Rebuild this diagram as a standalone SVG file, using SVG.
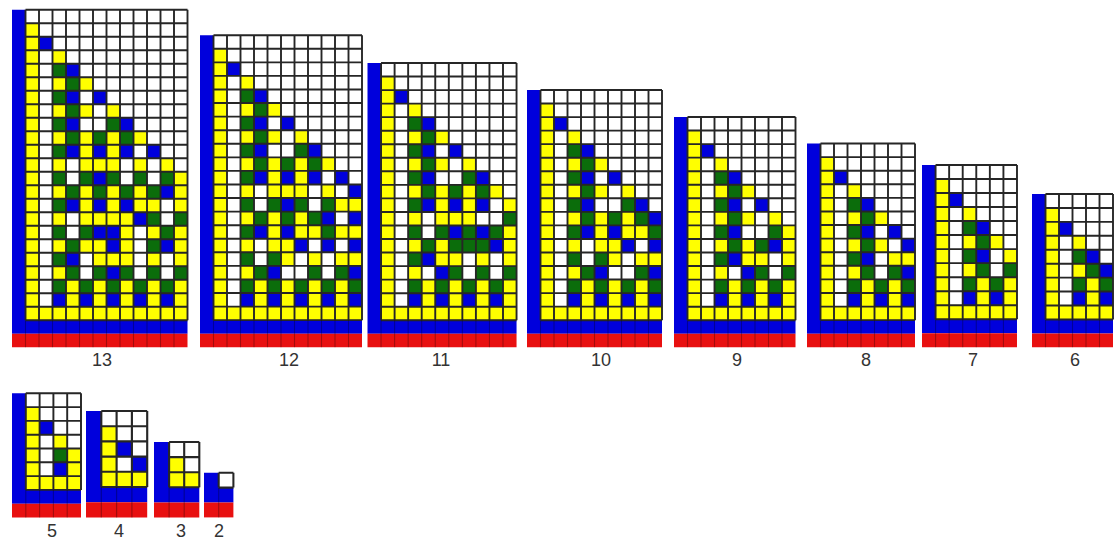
<svg xmlns="http://www.w3.org/2000/svg" width="1114" height="540" viewBox="0 0 1114 540">
<style>
.w{fill:#fff}
.y,.g,.b,.r{fill:none;stroke-width:1}
.y{stroke:#ffff00}
.g{stroke:#0b6d0b}
.b{stroke:#0000dc}
.r{stroke:#e81010}
.gl{fill:none;stroke:#262626;stroke-dasharray:.14 .86}
.sp{fill:none;stroke:#000;stroke-opacity:.3;stroke-dasharray:.08 .92;stroke-width:2}
text{font-family:"Liberation Sans",Arial,sans-serif;font-size:18px;fill:#333;text-anchor:middle}
</style>
<rect width="1114" height="540" fill="#fff"/>

<g id="squad-13">
<g transform="translate(12 9.8) scale(13.5)">
<rect class="w" x="1" y="0" width="12" height="23"/>
<path class="y" d="M1.5 1v22M1 22.5h12M3 3.5h1M3 5.5h1M5 5.5h1M3 7.5h1M5 7.5h1M7 7.5h1M3 9.5h1M5 9.5h1M7 9.5h1M9 9.5h1M5 10.5h1M7 10.5h1M3 11.5h1M5 11.5h3M9 11.5h1M11 11.5h1M12 12.5h1M3 13.5h1M5 13.5h1M7 13.5h1M9 13.5h1M12 13.5h1M5 14.5h1M7 14.5h1M9 14.5h2M12 14.5h1M3 15.5h1M5 15.5h4M8 16.5h1M10 16.5h1M12 16.5h1M3 17.5h1M5 17.5h2M8 17.5h1M12 17.5h1M6 18.5h3M10 18.5h1M12 18.5h1M3 19.5h1M4 20.5h1M6 20.5h1M8 20.5h1M10 20.5h1M12 20.5h1M4 21.5h1M6 21.5h1M8 21.5h1M10 21.5h1M12 21.5h1"/>
<path class="g" d="M3 4.5h1M4 5.5h1M3 6.5h1M4 7.5h1M3 8.5h1M7 8.5h1M4 9.5h1M6 9.5h1M8 9.5h1M3 10.5h1M3 12.5h1M5 12.5h1M7 12.5h1M9 12.5h1M11 12.5h1M4 13.5h1M6 13.5h1M8 13.5h1M10 13.5h1M3 14.5h1M10 15.5h1M12 15.5h1M3 16.5h1M5 16.5h1M11 16.5h1M4 17.5h1M10 17.5h1M3 18.5h1M4 19.5h1M6 19.5h1M8 19.5h1M10 19.5h1M12 19.5h1M3 20.5h1M5 20.5h1M7 20.5h1M9 20.5h1M11 20.5h1"/>
<path class="b" d="M.5 0v24M0 23.5h13M2 2.5h1M4 4.5h1M4 6.5h1M6 6.5h1M4 8.5h1M8 8.5h1M4 10.5h1M6 10.5h1M8 10.5h1M10 10.5h1M6 12.5h1M11 13.5h1M4 14.5h1M6 14.5h1M8 14.5h1M9 15.5h1M6 16.5h2M7 17.5h1M11 17.5h1M4 18.5h1M7 19.5h1M3 21.5h1M5 21.5h1M7 21.5h1M9 21.5h1M11 21.5h1"/>
<path class="r" d="M0 24.5h13"/>
<path class="gl" d="M.93 11.5h12.14" stroke-width="23"/>
<path class="gl" d="M7 -.07v23.14" stroke-width="12"/>
<path class="sp" d="M.96 24h11.08"/>
</g>
<text x="102" y="366">13</text>
</g>

<g id="squad-12">
<g transform="translate(200 35.2) scale(13.5 13.57)">
<rect class="w" x="1" y="0" width="11" height="21"/>
<path class="y" d="M1.5 1v20M1 20.5h11M3 3.5h1M3 5.5h1M5 5.5h1M3 7.5h1M5 7.5h1M7 7.5h1M3 9.5h1M5 9.5h1M7 9.5h1M9 9.5h1M5 10.5h1M7 10.5h1M3 11.5h1M5 11.5h3M9 11.5h1M10 12.5h2M3 13.5h1M5 13.5h1M7 13.5h1M5 14.5h1M7 14.5h2M10 14.5h2M3 15.5h1M5 15.5h2M6 16.5h1M8 16.5h1M10 16.5h2M3 17.5h1M4 18.5h1M6 18.5h1M8 18.5h1M10 18.5h1M4 19.5h1M6 19.5h1M8 19.5h1M10 19.5h1"/>
<path class="g" d="M3 4.5h1M4 5.5h1M3 6.5h1M4 7.5h1M3 8.5h1M7 8.5h1M4 9.5h1M6 9.5h1M8 9.5h1M3 10.5h1M3 12.5h1M5 12.5h1M7 12.5h1M9 12.5h1M4 13.5h1M6 13.5h1M8 13.5h1M3 14.5h1M9 14.5h1M3 16.5h1M5 16.5h1M4 17.5h1M8 17.5h1M10 17.5h1M3 18.5h1M5 18.5h1M7 18.5h1M9 18.5h1M11 18.5h1"/>
<path class="b" d="M.5 0v22M0 21.5h12M2 2.5h1M4 4.5h1M4 6.5h1M6 6.5h1M4 8.5h1M8 8.5h1M4 10.5h1M6 10.5h1M8 10.5h1M10 10.5h1M11 11.5h1M6 12.5h1M9 13.5h1M11 13.5h1M4 14.5h1M6 14.5h1M7 15.5h1M9 15.5h1M11 15.5h1M5 17.5h1M11 17.5h1M3 19.5h1M5 19.5h1M7 19.5h1M9 19.5h1M11 19.5h1"/>
<path class="r" d="M0 22.5h12"/>
<path class="gl" d="M.93 10.5h11.14" stroke-width="21"/>
<path class="gl" d="M6.5 -.07v21.14" stroke-width="11"/>
<path class="sp" d="M.96 22h10.08"/>
</g>
<text x="289" y="366">12</text>
</g>

<g id="squad-11">
<g transform="translate(367.5 63) scale(13.55 13.54)">
<rect class="w" x="1" y="0" width="10" height="19"/>
<path class="y" d="M1.5 1v18M1 18.5h10M3 3.5h1M3 5.5h1M5 5.5h1M3 7.5h1M5 7.5h1M7 7.5h1M3 9.5h1M5 9.5h1M7 9.5h1M9 9.5h1M5 10.5h1M7 10.5h1M10 10.5h1M3 11.5h1M5 11.5h3M10 12.5h1M3 13.5h1M5 13.5h1M10 13.5h1M5 14.5h2M8 14.5h1M10 14.5h1M3 15.5h1M4 16.5h1M6 16.5h1M8 16.5h1M10 16.5h1M4 17.5h1M6 17.5h1M8 17.5h1M10 17.5h1"/>
<path class="g" d="M3 4.5h1M4 5.5h1M3 6.5h1M4 7.5h1M3 8.5h1M7 8.5h1M4 9.5h1M6 9.5h1M8 9.5h1M3 10.5h1M10 11.5h1M3 12.5h1M5 12.5h1M7 12.5h1M9 12.5h1M4 13.5h1M6 13.5h3M3 14.5h1M6 15.5h1M8 15.5h1M10 15.5h1M3 16.5h1M5 16.5h1M7 16.5h1M9 16.5h1"/>
<path class="b" d="M.5 0v20M0 19.5h11M2 2.5h1M4 4.5h1M4 6.5h1M6 6.5h1M4 8.5h1M8 8.5h1M4 10.5h1M6 10.5h1M8 10.5h1M6 12.5h1M8 12.5h1M9 13.5h1M4 14.5h1M5 15.5h1M3 17.5h1M5 17.5h1M7 17.5h1M9 17.5h1"/>
<path class="r" d="M0 20.5h11"/>
<path class="gl" d="M.93 9.5h10.14" stroke-width="19"/>
<path class="gl" d="M6 -.07v19.14" stroke-width="10"/>
<path class="sp" d="M.96 20h9.08"/>
</g>
<text x="441" y="366">11</text>
</g>

<g id="squad-10">
<g transform="translate(527 90) scale(13.5 13.54)">
<rect class="w" x="1" y="0" width="9" height="17"/>
<path class="y" d="M1.5 1v16M1 16.5h9M3 3.5h1M3 5.5h1M5 5.5h1M3 7.5h1M5 7.5h1M7 7.5h1M3 9.5h1M5 9.5h1M7 9.5h1M5 10.5h1M7 10.5h2M3 11.5h1M5 11.5h2M6 12.5h1M8 12.5h2M3 13.5h1M4 14.5h1M6 14.5h1M8 14.5h1M4 15.5h1M6 15.5h1M8 15.5h1"/>
<path class="g" d="M3 4.5h1M4 5.5h1M3 6.5h1M4 7.5h1M3 8.5h1M7 8.5h1M4 9.5h1M6 9.5h1M8 9.5h1M3 10.5h1M9 10.5h1M3 12.5h1M5 12.5h1M4 13.5h1M8 13.5h1M3 14.5h1M5 14.5h1M7 14.5h1M9 14.5h1"/>
<path class="b" d="M.5 0v18M0 17.5h10M2 2.5h1M4 4.5h1M4 6.5h1M6 6.5h1M4 8.5h1M8 8.5h1M9 9.5h1M4 10.5h1M6 10.5h1M7 11.5h1M9 11.5h1M5 13.5h1M9 13.5h1M3 15.5h1M5 15.5h1M7 15.5h1M9 15.5h1"/>
<path class="r" d="M0 18.5h10"/>
<path class="gl" d="M.93 8.5h9.14" stroke-width="17"/>
<path class="gl" d="M5.5 -.07v17.14" stroke-width="9"/>
<path class="sp" d="M.96 18h8.08"/>
</g>
<text x="601" y="366">10</text>
</g>

<g id="squad-9">
<g transform="translate(674 117) scale(13.5 13.55)">
<rect class="w" x="1" y="0" width="8" height="15"/>
<path class="y" d="M1.5 1v14M1 14.5h8M3 3.5h1M3 5.5h1M5 5.5h1M3 7.5h1M5 7.5h1M7 7.5h1M8 8.5h1M3 9.5h1M5 9.5h1M8 9.5h1M5 10.5h2M8 10.5h1M3 11.5h1M4 12.5h1M6 12.5h1M8 12.5h1M4 13.5h1M6 13.5h1M8 13.5h1"/>
<path class="g" d="M3 4.5h1M4 5.5h1M3 6.5h1M4 7.5h1M3 8.5h1M7 8.5h1M4 9.5h1M6 9.5h1M3 10.5h1M6 11.5h1M8 11.5h1M3 12.5h1M5 12.5h1M7 12.5h1"/>
<path class="b" d="M.5 0v16M0 15.5h9M2 2.5h1M4 4.5h1M4 6.5h1M6 6.5h1M4 8.5h1M7 9.5h1M4 10.5h1M5 11.5h1M3 13.5h1M5 13.5h1M7 13.5h1"/>
<path class="r" d="M0 16.5h9"/>
<path class="gl" d="M.93 7.5h8.14" stroke-width="15"/>
<path class="gl" d="M5 -.07v15.14" stroke-width="8"/>
<path class="sp" d="M.96 16h7.08"/>
</g>
<text x="737" y="366">9</text>
</g>

<g id="squad-8">
<g transform="translate(807 143.5) scale(13.5 13.59)">
<rect class="w" x="1" y="0" width="7" height="13"/>
<path class="y" d="M1.5 1v12M1 12.5h7M3 3.5h1M3 5.5h1M5 5.5h1M3 7.5h1M5 7.5h1M6 8.5h2M3 9.5h1M4 10.5h1M6 10.5h1M4 11.5h1M6 11.5h1"/>
<path class="g" d="M3 4.5h1M4 5.5h1M3 6.5h1M4 7.5h1M3 8.5h1M4 9.5h1M6 9.5h1M3 10.5h1M5 10.5h1M7 10.5h1"/>
<path class="b" d="M.5 0v14M0 13.5h8M2 2.5h1M4 4.5h1M4 6.5h1M6 6.5h1M7 7.5h1M4 8.5h1M7 9.5h1M3 11.5h1M5 11.5h1M7 11.5h1"/>
<path class="r" d="M0 14.5h8"/>
<path class="gl" d="M.93 6.5h7.14" stroke-width="13"/>
<path class="gl" d="M4.5 -.07v13.14" stroke-width="7"/>
<path class="sp" d="M.96 14h6.08"/>
</g>
<text x="866" y="366">8</text>
</g>

<g id="squad-7">
<g transform="translate(922 165) scale(13.57 14.02)">
<rect class="w" x="1" y="0" width="6" height="11"/>
<path class="y" d="M1.5 1v10M1 10.5h6M3 3.5h1M3 5.5h1M5 5.5h1M6 6.5h1M3 7.5h1M4 8.5h1M6 8.5h1M4 9.5h1M6 9.5h1"/>
<path class="g" d="M3 4.5h1M4 5.5h1M3 6.5h1M4 7.5h1M6 7.5h1M3 8.5h1M5 8.5h1"/>
<path class="b" d="M.5 0v12M0 11.5h7M2 2.5h1M4 4.5h1M4 6.5h1M3 9.5h1M5 9.5h1"/>
<path class="r" d="M0 12.5h7"/>
<path class="gl" d="M.93 5.5h6.14" stroke-width="11"/>
<path class="gl" d="M4 -.07v11.14" stroke-width="6"/>
<path class="sp" d="M.96 12h5.08"/>
</g>
<text x="973" y="366">7</text>
</g>

<g id="squad-6">
<g transform="translate(1032 194) scale(13.5 13.94)">
<rect class="w" x="1" y="0" width="5" height="9"/>
<path class="y" d="M1.5 1v8M1 8.5h5M3 3.5h1M3 5.5h1M4 6.5h1M4 7.5h1"/>
<path class="g" d="M3 4.5h1M4 5.5h1M3 6.5h1M5 6.5h1"/>
<path class="b" d="M.5 0v10M0 9.5h6M2 2.5h1M4 4.5h1M5 5.5h1M3 7.5h1M5 7.5h1"/>
<path class="r" d="M0 10.5h6"/>
<path class="gl" d="M.93 4.5h5.14" stroke-width="9"/>
<path class="gl" d="M3.5 -.07v9.14" stroke-width="5"/>
<path class="sp" d="M.96 10h4.08"/>
</g>
<text x="1075" y="366">6</text>
</g>

<g id="squad-5">
<g transform="translate(12 393.3) scale(13.8)">
<rect class="w" x="1" y="0" width="4" height="7"/>
<path class="y" d="M1.5 1v6M1 6.5h4M3 3.5h1M4 4.5h1M4 5.5h1"/>
<path class="g" d="M3 4.5h1"/>
<path class="b" d="M.5 0v8M0 7.5h5M2 2.5h1M3 5.5h1"/>
<path class="r" d="M0 8.5h5"/>
<path class="gl" d="M.93 3.5h4.14" stroke-width="7"/>
<path class="gl" d="M3 -.07v7.14" stroke-width="4"/>
<path class="sp" d="M.96 8h3.08"/>
</g>
<text x="52" y="537">5</text>
</g>

<g id="squad-4">
<g transform="translate(86 411) scale(15.3 15.2)">
<rect class="w" x="1" y="0" width="3" height="5"/>
<path class="y" d="M1.5 1v4M1 4.5h3"/>
<path class="b" d="M.5 0v6M0 5.5h4M2 2.5h1M3 3.5h1"/>
<path class="r" d="M0 6.5h4"/>
<path class="gl" d="M.93 2.5h3.14" stroke-width="5"/>
<path class="gl" d="M2.5 -.07v5.14" stroke-width="3"/>
<path class="sp" d="M.96 6h2.08"/>
</g>
<text x="119" y="537">4</text>
</g>

<g id="squad-3">
<g transform="translate(154 442) scale(15.1)">
<rect class="w" x="1" y="0" width="2" height="3"/>
<path class="y" d="M1.5 1v2M1 2.5h2"/>
<path class="b" d="M.5 0v4M0 3.5h3"/>
<path class="r" d="M0 4.5h3"/>
<path class="gl" d="M.93 1.5h2.14" stroke-width="3"/>
<path class="gl" d="M2 -.07v3.14" stroke-width="2"/>
<path class="sp" d="M.96 4h1.08"/>
</g>
<text x="181" y="537">3</text>
</g>

<g id="squad-2">
<g transform="translate(204 472.7) scale(14.7 14.9)">
<rect class="w" x="1" y="0" width="1" height="1"/>
<path class="b" d="M.5 0v2M0 1.5h2"/>
<path class="r" d="M0 2.5h2"/>
<path class="gl" d="M.93 .5h1.14" stroke-width="1"/>
<path class="gl" d="M1.5 -.07v1.14" stroke-width="1"/>
<path class="sp" d="M.96 2h.08"/>
</g>
<text x="219" y="537">2</text>
</g>
</svg>
